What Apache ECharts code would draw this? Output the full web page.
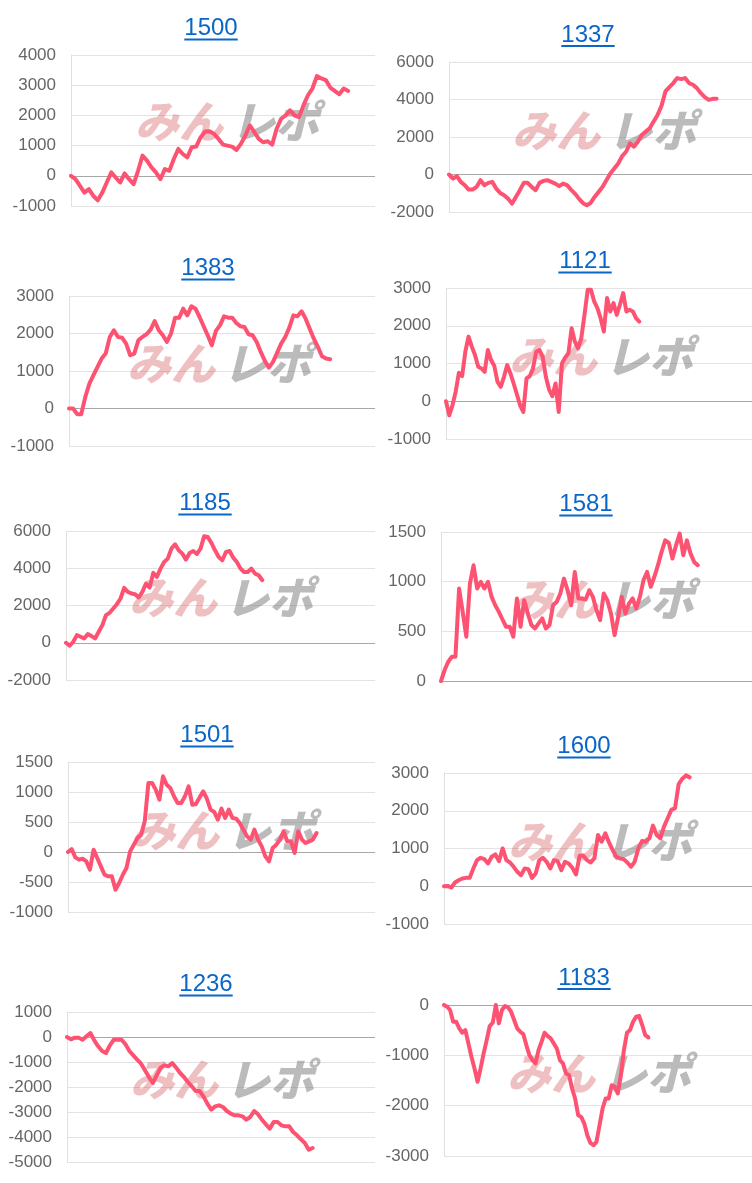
<!DOCTYPE html>
<html>
<head>
<meta charset="utf-8">
<script src="https://cdn.jsdelivr.net/npm/echarts@6/dist/echarts.min.js"></script>
<style>
html,body{margin:0;padding:0;background:#fff;}
#chart{width:752px;height:1183px;}
</style>
</head>
<body>
<div id="chart"></div>
<script>
// ---- data ----
const titles = ['1500','1337','1383','1121','1185','1581','1501','1600','1236','1183'];
const yMin  = [-1000,-2000,-1000,-1000,-2000,0,-1000,-1000,-5000,-3000];
const yMax  = [4000,6000,3000,3000,6000,1500,1500,3000,1000,0];
const yStep = [1000,2000,1000,1000,2000,500,500,1000,1000,1000];
const xCount = [69,78,76,96,86,87,85,85,80,102];

const s1500 = [0,-111,-333,-556,-444,-667,-811,-556,-222,111,-56,-222,78,-111,-278,167,667,500,278,111,-111,222,167,556,889,722,611,944,967,1278,1467,1478,1389,1222,1033,1000,967,856,1056,1333,1667,1444,1222,1111,1144,1033,1556,1889,2000,2167,2000,1944,2333,2667,2889,3300,3222,3167,2922,2811,2700,2889,2811];
const s1337 = [0,-214,-89,-393,-571,-804,-804,-661,-304,-571,-446,-393,-750,-982,-1107,-1286,-1554,-1196,-839,-446,-446,-661,-839,-446,-339,-304,-393,-482,-625,-482,-571,-804,-1018,-1286,-1518,-1643,-1518,-1196,-929,-661,-304,54,321,589,982,1214,1661,1482,1750,2107,2286,2464,2821,3179,3661,4429,4661,4875,5143,5089,5143,4875,4786,4607,4339,4125,3982,4036,4036];
const s1383 = [0,0,-151,-151,311,665,887,1109,1331,1464,1908,2085,1908,1890,1730,1420,1464,1819,1908,1979,2103,2333,2085,1952,1775,1997,2423,2423,2662,2484,2724,2662,2440,2192,1952,1686,2068,2218,2458,2423,2423,2280,2192,2174,1979,1952,1775,1509,1269,1091,1242,1482,1730,1908,2156,2484,2458,2591,2396,2129,1863,1642,1393,1331,1313];
const s1121 = [0,-373,-107,248,754,665,1313,1712,1447,1225,914,870,781,1358,1091,932,515,381,648,958,737,470,186,-107,-284,603,665,870,1313,1358,1180,648,311,133,470,-284,1002,1162,1269,1934,1580,1402,1668,2289,2955,2955,2644,2467,2200,1846,2733,2378,2600,2289,2555,2866,2378,2422,2378,2200,2112];
const s1185 = [0,-161,54,411,321,232,464,357,232,589,946,1482,1607,1839,2071,2375,2946,2732,2643,2607,2429,2732,3179,2964,3750,3536,3982,4339,4518,5054,5286,4964,4786,4464,4821,4929,4768,5054,5714,5679,5357,4964,4607,4429,4875,4929,4571,4339,3982,3804,3804,3982,3714,3625,3357];
const s1581 = [0,110,194,244,244,931,696,445,981,1165,931,998,931,998,847,763,696,619,546,546,446,831,546,814,680,563,529,580,630,529,563,763,797,881,1031,914,763,1098,831,831,821,914,847,713,613,881,814,680,462,646,847,680,780,831,730,847,1015,1098,948,1049,1166,1300,1416,1390,1233,1367,1484,1266,1416,1283,1199,1166];
const s1501 = [0,50,-89,-128,-111,-156,-294,39,-100,-239,-378,-406,-406,-628,-517,-378,-267,11,122,233,289,511,1150,1150,1039,872,1261,1122,1067,928,817,817,928,1094,789,800,911,1011,889,706,667,539,722,567,706,567,556,483,372,261,206,372,206,94,-72,-156,67,122,206,344,178,178,-17,344,206,150,178,206,317];
const s1600 = [0,9,-35,98,160,204,222,222,470,692,754,719,603,781,843,665,1002,692,630,515,382,293,470,453,222,337,692,754,648,470,692,665,426,648,603,488,311,808,808,692,630,737,1358,1180,1402,1162,958,781,737,719,630,515,648,1002,1198,1180,1269,1606,1358,1269,1580,1802,2023,2068,2706,2848,2937,2884];
const s1236 = [0,-93,-27,-27,-107,27,160,-133,-373,-560,-640,-333,-107,-107,-107,-293,-560,-733,-907,-1067,-1333,-1600,-1840,-1533,-1227,-1133,-1173,-1040,-1227,-1440,-1600,-1800,-1973,-2160,-2160,-2373,-2667,-2907,-2773,-2733,-2800,-2960,-3067,-3133,-3133,-3173,-3307,-3200,-2960,-3093,-3307,-3493,-3667,-3400,-3400,-3533,-3573,-3573,-3800,-3933,-4093,-4240,-4507,-4440];
const s1183 = [0,-33,-100,-332,-332,-465,-551,-498,-763,-1029,-1261,-1526,-1261,-962,-697,-418,-352,0,-365,-100,-20,-46,-133,-299,-465,-531,-577,-796,-995,-1095,-1161,-896,-730,-551,-617,-664,-763,-863,-1095,-1161,-1360,-1393,-1659,-1858,-2190,-2223,-2356,-2588,-2741,-2787,-2721,-2389,-2057,-1858,-1858,-1593,-1626,-1759,-1394,-896,-551,-498,-332,-232,-219,-398,-597,-644];
const seriesData = [s1500,s1337,s1383,s1121,s1185,s1581,s1501,s1600,s1236,s1183];

// ---- layout (pixels) ----
const grids = [
  {left:71, top:55,  width:304, height:151},
  {left:449,top:62,  width:303, height:150},
  {left:69, top:296, width:306, height:150},
  {left:446,top:288, width:306, height:151},
  {left:66, top:531, width:309, height:149},
  {left:441,top:532, width:311, height:149},
  {left:68, top:762, width:307, height:150},
  {left:444,top:773, width:308, height:151},
  {left:67, top:1012,width:308, height:150},
  {left:444,top:1005,width:308, height:151}
];
const titlePos = [[211,28.5],[588,35],[208,268.5],[585,261.5],[205,503.5],[586,504.5],[207,735.5],[584,746.5],[206,984.5],[584,978]];
const markPos = [[231,121.5],[608,130],[223,363],[605,356],[225,597],[606,599],[227,830],[604,841],[226,1079],[603,1073]];

const FONT = "'Liberation Sans', Arial, sans-serif";
const LINE = '#fe5272';
const chart = echarts.init(document.getElementById('chart'), null, {renderer:'canvas'});

const xAxes = [], yAxes = [], series = [], graphics = [];
for (let i = 0; i < titles.length; i++) {
  const cats = [];
  for (let k = 1; k <= xCount[i]; k++) cats.push(String(k));
  xAxes.push({type:'category', gridIndex:i, data:cats, boundaryGap:false, show:false});
  const nTicks = Math.round((yMax[i]-yMin[i])/yStep[i]) + 1;
  const colors = [];
  for (let t = 0; t < nTicks; t++) {
    colors.push(yMin[i] + t*yStep[i] === 0 ? '#a8a8a8' : '#e3e3e3');
  }
  yAxes.push({
    type:'value', gridIndex:i, min:yMin[i], max:yMax[i], interval:yStep[i],
    axisLine:{show:true, lineStyle:{color:'#e0e0e0', width:1}},
    axisTick:{show:false},
    axisLabel:{color:'#666', fontSize:17, fontFamily:FONT, margin:15, formatter: v => String(v)},
    splitLine:{show:true, lineStyle:{color:colors, width:1}}
  });
  series.push({
    type:'line', xAxisIndex:i, yAxisIndex:i, data:seriesData[i],
    symbol:'none', showSymbol:false, z:5,
    lineStyle:{color:LINE, width:4, join:'round', cap:'round'},
    animation:false
  });
  const [tx, ty] = titlePos[i];
  graphics.push({type:'text', x:tx, y:ty, z:10,
    style:{text:titles[i], font:"24px "+FONT, fill:'#0a66c9', textAlign:'center', textVerticalAlign:'middle'}});
  graphics.push({type:'rect', shape:{x:tx-26.7, y:ty+10, width:53.4, height:2}, z:10,
    style:{fill:'#0a66c9'}});
  const [mx, my] = markPos[i];
  graphics.push({type:'text', x:mx-8, y:my, z:1, silent:true,
    style:{text:'みん', font:"italic 900 44px 'Noto Sans CJK JP'", fill:'rgba(214,90,95,0.38)', textAlign:'right', textVerticalAlign:'middle'}});
  graphics.push({type:'text', x:mx, y:my, z:1, silent:true,
    style:{text:'レポ', font:"italic 900 44px 'Noto Sans CJK JP'", fill:'rgba(120,120,120,0.5)', textAlign:'left', textVerticalAlign:'middle'}});
}

chart.setOption({
  animation:false,
  backgroundColor:'#fff',
  grid: grids.map(g => Object.assign({containLabel:false}, g)),
  xAxis: xAxes,
  yAxis: yAxes,
  series: series,
  graphic: graphics
});
</script>
</body>
</html>
